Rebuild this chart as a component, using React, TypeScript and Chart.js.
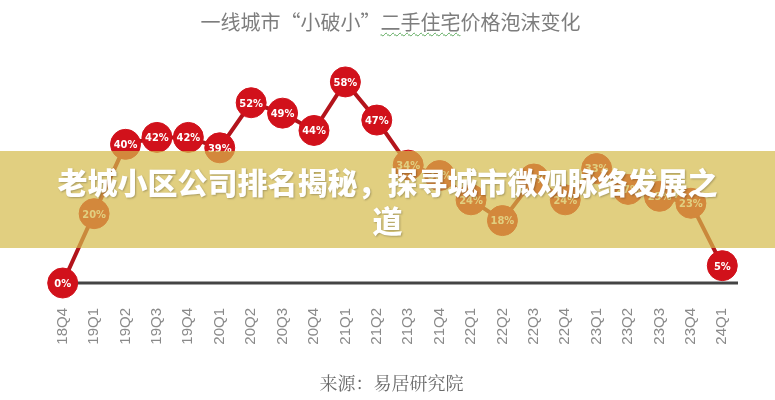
import React, { useEffect, useRef } from "react";
import { Chart, registerables } from "chart.js";

Chart.register(...registerables);

const quarters = [
  "18Q4", "19Q1", "19Q2", "19Q3", "19Q4", "20Q1", "20Q2", "20Q3", "20Q4",
  "21Q1", "21Q2", "21Q3", "21Q4", "22Q1", "22Q2", "22Q3", "22Q4",
  "23Q1", "23Q2", "23Q3", "23Q4", "24Q1",
];
const bubbleRate = [
  0, 20, 40, 42, 42, 39, 52, 49, 44, 58, 47, 34, 31, 24, 18, 30, 24, 33, 27, 25, 23, 5,
];

const titleBefore = "一线城市“小破小”";
const titleWavy = "二手住宅";
const titleAfter = "价格泡沫变化";
const bannerText = "老城小区公司排名揭秘，探寻城市微观脉络发展之道";
const sourceText = "来源：易居研究院";

const baselinePlugin = {
  id: "baseline",
  beforeDatasetsDraw(chart: any) {
    const { ctx, chartArea, scales } = chart;
    const y = scales.y.getPixelForValue(0);
    const x0 = scales.x.getPixelForValue(0);
    ctx.save();
    ctx.strokeStyle = "#444444";
    ctx.lineWidth = 3;
    ctx.beginPath();
    ctx.moveTo(x0, y);
    ctx.lineTo(chartArea.right, y);
    ctx.stroke();
    ctx.restore();
  },
};

const pointLabelPlugin = {
  id: "pointLabels",
  afterDatasetsDraw(chart: any) {
    const { ctx } = chart;
    const meta = chart.getDatasetMeta(0);
    ctx.save();
    ctx.fillStyle = "#ffffff";
    ctx.font = "bold 11px 'Liberation Sans Narrow', 'DejaVu Sans Condensed', 'Liberation Sans', sans-serif";
    ctx.textAlign = "center";
    ctx.textBaseline = "middle";
    meta.data.forEach((pt: any, i: number) => {
      ctx.fillText(bubbleRate[i] + "%", pt.x, pt.y + 1);
    });
    ctx.restore();
  },
};

export default function App() {
  const canvasRef = useRef<HTMLCanvasElement | null>(null);

  useEffect(() => {
    if (!canvasRef.current) return;
    const chart = new Chart(canvasRef.current, {
      type: "line",
      data: {
        labels: quarters,
        datasets: [
          {
            data: bubbleRate,
            borderColor: "#b3141c",
            borderWidth: 4,
            pointRadius: 15,
            pointHoverRadius: 15,
            pointBackgroundColor: "#d1111b",
            pointBorderColor: "#d1111b",
            pointBorderWidth: 1,
            tension: 0,
            clip: false as any,
          },
        ],
      },
      options: {
        animation: false,
        responsive: false,
        maintainAspectRatio: false,
        layout: { padding: { left: 47, right: 37, top: 75, bottom: 47 } },
        plugins: {
          legend: { display: false },
          title: { display: false },
          tooltip: { enabled: false },
        },
        scales: {
          x: {
            offset: true,
            grid: { display: false, drawTicks: false },
            border: { display: false },
            ticks: {
              autoSkip: false,
              minRotation: 90,
              maxRotation: 90,
              padding: 25,
              color: "#8a8a8a",
              font: { family: "'Liberation Sans', Arial, sans-serif", size: 15 },
            },
            afterFit: (scale: any) => {
              scale.height = 70;
            },
          },
          y: {
            display: false,
            min: 0,
            max: 60,
          },
        },
      },
      plugins: [baselinePlugin, pointLabelPlugin],
    });
    return () => chart.destroy();
  }, []);

  return (
    <div
      style={{
        position: "fixed",
        left: 0,
        top: 0,
        width: 775,
        height: 400,
        background: "#ffffff",
        overflow: "hidden",
      }}
    >
      <canvas
        ref={canvasRef}
        width={775}
        height={400}
        style={{ position: "absolute", left: 0, top: 0, width: 775, height: 400 }}
      />
      <div
        style={{
          position: "absolute",
          left: 0,
          top: 8,
          width: 775,
          textAlign: "center",
          fontFamily: "'Noto Sans CJK SC', sans-serif",
          fontSize: 20,
          lineHeight: "28px",
          color: "#7d7d7d",
          paddingLeft: 3,
        }}
      >
        {titleBefore}
        <span
          style={{
            textDecorationLine: "underline",
            textDecorationStyle: "wavy",
            textDecorationColor: "#5aa85a",
            textDecorationThickness: "1px",
            textUnderlineOffset: "2px",
          }}
        >
          {titleWavy}
        </span>
        {titleAfter}
      </div>
      <div
        style={{
          position: "absolute",
          left: 0,
          top: 151,
          width: 775,
          height: 97,
          background: "rgba(212, 186, 74, 0.7)",
          display: "flex",
          alignItems: "center",
          justifyContent: "center",
        }}
      >
        <div
          style={{
            width: 675,
            textAlign: "center",
            color: "#ffffff",
            fontFamily: "'Noto Sans CJK SC', sans-serif",
            fontWeight: 900,
            fontSize: 30,
            lineHeight: "38px",
            textShadow: "1px 1px 2px rgba(0,0,0,0.25)",
          }}
        >
          {bannerText}
        </div>
      </div>
      <div
        style={{
          position: "absolute",
          left: 0,
          top: 369,
          width: 775,
          textAlign: "center",
          fontFamily: "'Noto Serif CJK SC', 'Noto Sans CJK SC', serif",
          fontSize: 18,
          lineHeight: "26px",
          color: "#6a6a6a",
          paddingLeft: 4,
        }}
      >
        {sourceText}
      </div>
    </div>
  );
}
